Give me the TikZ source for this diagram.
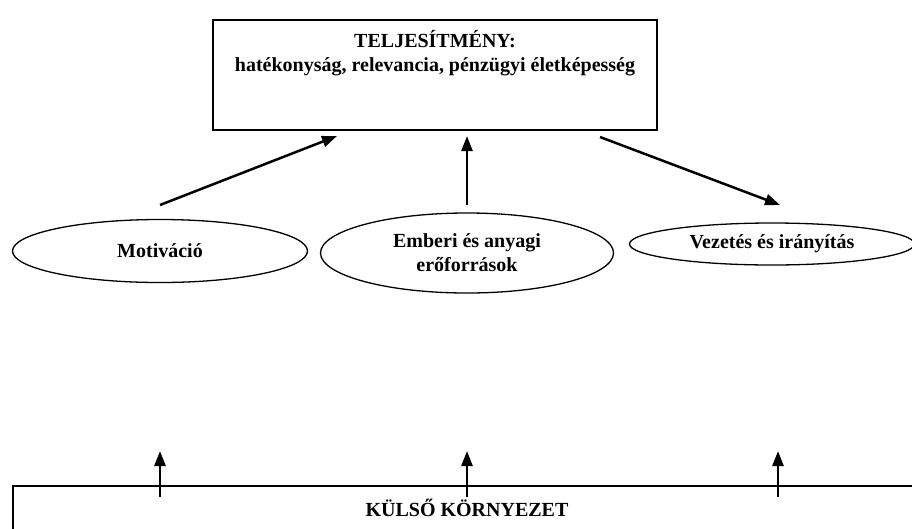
\documentclass[tikz,border=0pt]{standalone}
\usepackage{fontspec}
\setmainfont{Liberation Serif}
\usetikzlibrary{shapes.geometric,arrows.meta,calc}
\tikzset{
  txt/.style={font=\bfseries\fontsize{20}{24}\selectfont},
  oval/.style={ellipse,draw,line width=1.3pt,inner sep=0pt,align=center,txt},
  arr/.style={-{Triangle[length=15pt,width=11pt]},line width=2.5pt}
}
\begin{document}
\begin{tikzpicture}[x=1pt,y=-1pt]
		\useasboundingbox (0,0) rectangle (912,528);
		% top box
		\node[draw,line width=1.8pt,minimum width=444pt,minimum height=110pt] (perf) at (435,75) {};
		\node[anchor=north,align=center,txt] (perft) at ($(perf.north)+(0,8)$) {TELJESÍTMÉNY:\\hatékonyság, relevancia, pénzügyi életképesség};
		% ovals
		\node[oval,minimum width=295pt,minimum height=63pt] (mot) at (160,251) {Motiváció};
		\node[oval,minimum width=293pt,minimum height=80pt] (res) at (467,253) {Emberi és anyagi\\erőforrások};
		\node[oval,minimum width=285pt,minimum height=42pt] (lead) at (772,244) {Vezetés és irányítás};
		% external box
		\node[draw,line width=1.8pt,anchor=north west,minimum width=940pt,minimum height=80pt] (env) at (12,485) {};
		\node[txt] (envt) at (467,508) {KÜLSŐ KÖRNYEZET};
		% arrows
		\coordinate (a1) at (160,205); \coordinate (b1) at (337,136);
		\coordinate (a2) at (467,205); \coordinate (b2) at (467,136);
		\coordinate (a3) at (600,137); \coordinate (b3) at (780,205);
		\draw[arr] (a1)--(b1);
		\draw[arr] (a2)--(b2);
		\draw[arr] (a3)--(b3);
		\foreach \i/\xx in {1/160,2/467,3/778}{
			\coordinate (u\i) at (\xx,497); \coordinate (v\i) at (\xx,451);
			\draw[arr] (u\i)--(v\i);
		}
\end{tikzpicture}
\end{document}
